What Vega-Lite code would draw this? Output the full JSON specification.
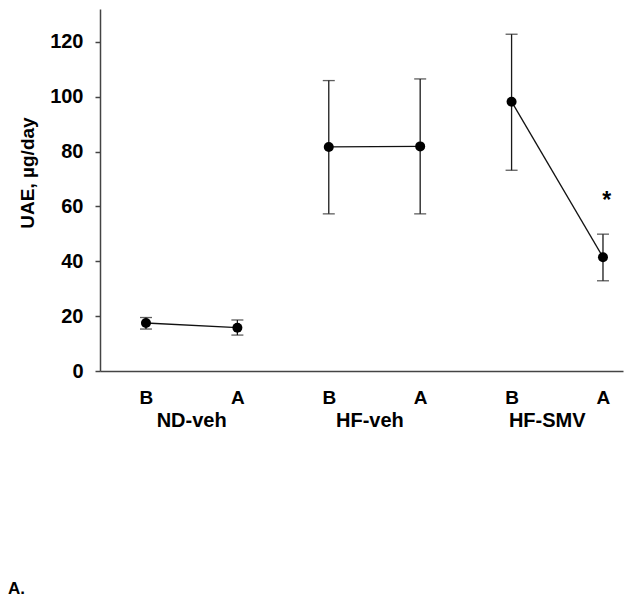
{
  "$schema": "https://vega.github.io/schema/vega-lite/v6.json",
  "autosize": "none",
  "width": 523,
  "height": 362,
  "padding": {"left": 100, "top": 9, "right": 10, "bottom": 233},
  "background": "white",
  "config": {
    "font": "Liberation Sans",
    "view": {"stroke": null},
    "axis": {"grid": false, "domainColor": "#444", "domainWidth": 1.5, "tickColor": "#444", "tickWidth": 1.5, "labelColor": "black", "titleColor": "black", "labelFont": "Liberation Sans", "titleFont": "Liberation Sans", "labelFontWeight": "bold", "titleFontWeight": "bold"}
  },
  "datasets": {
    "pts": [
      {"group": "ND-veh", "phase": "B", "pos": 0, "mean": 17.5, "lo": 15.3, "hi": 19.5},
      {"group": "ND-veh", "phase": "A", "pos": 1, "mean": 15.8, "lo": 13.1, "hi": 18.6},
      {"group": "HF-veh", "phase": "B", "pos": 2, "mean": 81.7, "lo": 57.3, "hi": 105.9},
      {"group": "HF-veh", "phase": "A", "pos": 3, "mean": 81.9, "lo": 57.3, "hi": 106.5},
      {"group": "HF-SMV", "phase": "B", "pos": 4, "mean": 98.2, "lo": 73.2, "hi": 122.8},
      {"group": "HF-SMV", "phase": "A", "pos": 5, "mean": 41.5, "lo": 32.9, "hi": 49.9}
    ],
    "groups": [
      {"label": "ND-veh", "pos": 0.5, "v": -20.4},
      {"label": "HF-veh", "pos": 2.45, "v": -20.4},
      {"label": "HF-SMV", "pos": 4.39, "v": -20.4}
    ],
    "notes": [
      {"label": "*", "pos": 5.04, "v": 59.4, "kind": "star"}
    ],
    "panel": [
      {"label": "A.", "pos": -1.51, "v": -81.2}
    ]
  },
  "layer": [
    {
      "data": {"name": "pts"},
      "mark": {"type": "rule", "color": "#1a1a1a", "strokeWidth": 1.3},
      "encoding": {
        "x": {"field": "pos", "type": "quantitative", "scale": {"domain": [-0.503, 5.219], "nice": false, "zero": false},
          "axis": {"values": [0, 1, 2, 3, 4, 5], "labelExpr": "datum.value % 2 == 0 ? 'B' : 'A'", "ticks": false, "tickSize": 0, "labelFontSize": 19, "labelPadding": 17, "labelBaseline": "top", "title": null}},
        "y": {"field": "lo", "type": "quantitative", "scale": {"domain": [0, 132], "nice": false},
          "axis": {"values": [0, 20, 40, 60, 80, 100, 120], "tickSize": 5, "labelPadding": 12, "labelFontSize": 20, "title": "UAE, µg/day", "titleFontSize": 19, "titleY": 163.5, "titleX": -67, "titleBaseline": "alphabetic", "titleAngle": -90}},
        "y2": {"field": "hi"}
      }
    },
    {
      "data": {"name": "pts"},
      "mark": {"type": "tick", "orient": "horizontal", "color": "#1a1a1a", "size": 12, "thickness": 1.3},
      "encoding": {"x": {"field": "pos", "type": "quantitative"}, "y": {"field": "hi", "type": "quantitative"}}
    },
    {
      "data": {"name": "pts"},
      "mark": {"type": "tick", "orient": "horizontal", "color": "#1a1a1a", "size": 12, "thickness": 1.3},
      "encoding": {"x": {"field": "pos", "type": "quantitative"}, "y": {"field": "lo", "type": "quantitative"}}
    },
    {
      "data": {"name": "pts"},
      "mark": {"type": "line", "color": "#111", "strokeWidth": 1.3},
      "encoding": {"x": {"field": "pos", "type": "quantitative"}, "y": {"field": "mean", "type": "quantitative"}, "detail": {"field": "group"}}
    },
    {
      "data": {"name": "pts"},
      "mark": {"type": "point", "filled": true, "shape": "circle", "color": "black", "size": 100, "opacity": 1},
      "encoding": {"x": {"field": "pos", "type": "quantitative"}, "y": {"field": "mean", "type": "quantitative"}}
    },
    {
      "data": {"name": "groups"},
      "mark": {"type": "text", "fontWeight": "bold", "fontSize": 20, "baseline": "alphabetic", "align": "center", "color": "black"},
      "encoding": {"x": {"field": "pos", "type": "quantitative"}, "y": {"field": "v", "type": "quantitative"}, "text": {"field": "label"}}
    },
    {
      "data": {"name": "notes"},
      "mark": {"type": "text", "fontWeight": "bold", "fontSize": 23, "baseline": "alphabetic", "align": "center", "color": "black"},
      "encoding": {"x": {"field": "pos", "type": "quantitative"}, "y": {"field": "v", "type": "quantitative"}, "text": {"field": "label"}}
    },
    {
      "data": {"name": "panel"},
      "mark": {"type": "text", "fontWeight": "bold", "fontSize": 17, "baseline": "alphabetic", "align": "left", "color": "black"},
      "encoding": {"x": {"field": "pos", "type": "quantitative"}, "y": {"field": "v", "type": "quantitative"}, "text": {"field": "label"}}
    }
  ]
}
